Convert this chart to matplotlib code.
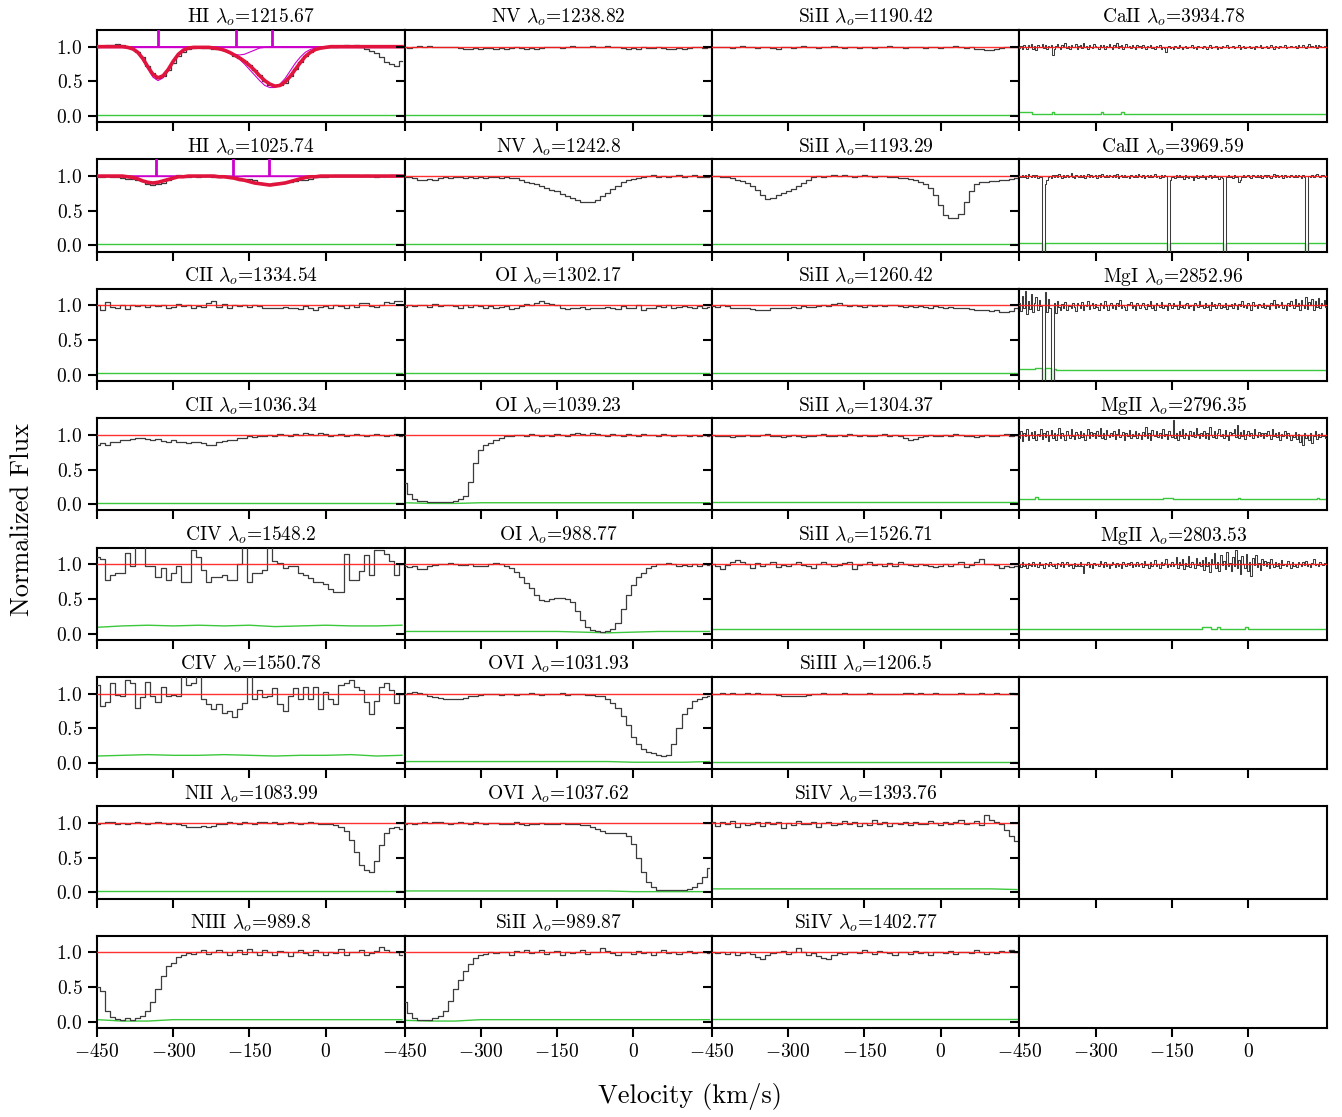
import numpy as np
import matplotlib
matplotlib.use("Agg")
import matplotlib.pyplot as plt
from matplotlib.gridspec import GridSpec
from matplotlib.ticker import FixedLocator, FixedFormatter, NullFormatter

plt.rcParams.update({
    "font.family": "serif",
    "font.serif": ["cmr10", "DejaVu Serif"],
    "mathtext.fontset": "cm",
    "axes.formatter.use_mathtext": True,
    "axes.unicode_minus": False,
})

# ---------------- data ----------------
V_START = -450
COS_STEP = 10      # km/s per bin for COS/FUSE panels
HIRES_STEP = 3     # km/s per bin for optical high-res panels
ERR_NODE_STEP = 50

xticks = [-450, -300, -150, 0]
xticklabels = ["$-450$", "$-300$", "$-150$", "$0$"]
yticks = [0.0, 0.5, 1.0]
yticklabels = ["$0.0$", "$0.5$", "$1.0$"]

# fluxes in percent of continuum
hi1215_flux = [100,101,103,103,104,102,100,97,93,85,
               72,62,55,57,66,77,86,93,96,98,
               99,98,98,97,97,95,92,87,83,80,
               74,67,59,51,45,43,44,48,57,68,
               78,86,92,96,98,99,100,100,101,102,
               101,102,99,97,94,91,85,78,75,72,
               79]
hi1215_model = [100]*6 + [99,97,92,83,71,60,55,58,67,79,
                89,95,98,99,99,99,99,98,97,95,
                92,88,84,79,73,66,58,51,46,43,
                44,49,57,67,77,86,92,96,98,99] + [100]*15
hi1215_comp1 = [100]*6 + [99,97,91,81,68,56,51,55,65,78,
                88,94,98,99] + [100]*41
hi1215_comp2 = [100]*23 + [99,97,94,91,89,88,89,92,95,98,99] + [100]*27
hi1215_comp3 = [100]*21 + [99,98,97,96,94,91,87,82,75,67,59,51,44,41,
                41,46,54,65,76,85,92,96,98,99,100] + [100]*15
hi1215_lines = [-330, -176, -105]

hi1025_flux = [99,99,100,99,99,97,96,96,95,93,
               88,87,89,90,94,99,101,100,98,100,
               99,100,101,98,99,100,100,99,97,96,
               96,95,90,89,89,90,90,91,92,93,
               95,95,96,98,98,99,100,101,102,101,
               102,101,100,101,100,98,100,100,102,101,
               100]
hi1025_model = [100]*6 + [99,98,96,93,91,90,91,93,95,97,
                99,99,100,100,100,100,100,100,99,99,
                98,97,95,94,92,90,89,88,87,88,
                89,90,92,94,96,98,99,99,100,100] + [100]*15
hi1025_comp1 = [100]*6 + [99,98,96,93,91,90,91,93,95,97,99] + [100]*44
hi1025_comp2 = [100]*25 + [99,99,99,99] + [100]*32
hi1025_comp3 = [100]*23 + [99,99,98,98,97,95,94,92,90,89,88,87,88,89,90,
                92,94,96,98,99,99,100] + [100]*16
hi1025_lines = [-334, -182, -111]

nv1238_flux = [99,98,99,101,100,101,100,99,100,100,
               100,98,97,97,98,97,98,98,97,98,
               97,98,99,98,97,98,97,98,99,100,
               99,98,99,101,100,99,100,101,100,99,
               101,100,99,98,97,98,97,99,98,98,
               100,98,97,96,98,97,98,99,100,98,
               99]
nv1242_flux = [99,98,97,95,94,96,95,97,98,97,
               98,99,97,98,97,98,97,98,99,97,
               98,97,97,95,92,90,89,86,83,80,
               78,74,71,68,65,63,62,63,66,71,
               76,81,86,91,94,96,97,99,100,101,
               99,100,98,100,101,99,100,101,99,98,
               99]
sii1190_flux = [100,99,100,99,98,100,101,100,99,98,
                99,100,98,97,99,100,98,99,101,100,
                99,98,100,99,101,99,98,100,99,98,
                100,99,98,99,100,101,100,99,98,99,
                100,99,98,100,99,98,99,100,101,99,
                98,99,97,96,95,95,96,98,99,100,
                99]
sii1193_flux = [100,100,99,98,97,95,93,90,86,80,
                72,67,69,72,75,78,81,85,90,95,
                98,100,99,100,101,100,101,100,99,100,
                101,100,99,100,100,99,98,97,97,96,
                95,92,88,83,73,58,44,39,39,45,
                62,79,88,91,92,93,93,94,95,96,
                97]
cii1334_flux = [100,93,105,98,97,100,95,101,99,100,
                98,101,99,100,97,98,102,99,100,97,
                99,98,104,106,98,102,97,101,99,100,
                98,101,99,97,96,97,96,98,96,97,
                95,99,97,94,98,99,97,100,99,96,
                101,98,104,103,99,98,101,105,103,106,
                107]
oi1302_flux = [98,100,99,101,100,98,102,99,101,100,
               99,97,100,98,101,99,97,99,96,98,
               99,95,97,99,102,101,103,106,104,102,
               100,96,95,97,96,98,95,96,97,96,
               98,97,95,99,96,97,100,93,96,97,
               99,98,100,97,98,99,98,97,99,97,
               98]
sii1260_flux = [99,98,100,99,97,96,97,96,95,94,
                93,94,96,97,96,97,98,97,99,98,
                98,99,100,99,102,104,101,99,100,99,
                98,100,99,100,99,101,100,99,98,99,
                98,99,98,97,99,98,97,98,96,97,
                96,95,94,93,94,92,93,91,90,92,
                96]
cii1036_flux = [86,88,85,89,90,93,92,94,95,96,
                94,93,94,91,90,92,89,89,88,90,
                89,88,86,85,89,91,92,93,95,96,
                98,97,99,98,100,99,101,100,99,101,
                100,102,101,100,102,101,99,100,101,99,
                100,101,100,99,100,101,100,99,100,101,
                99]
oi1039_flux = [30,14,7,5,4,3,3,3,3,3,
               4,7,12,32,60,78,85,88,92,96,
               98,99,100,100,99,101,100,99,100,99,
               101,100,99,101,102,101,100,102,101,100,
               99,101,100,98,101,100,99,101,100,100,
               99,101,100,99,100,100,99,100,99,100,
               99]
sii1304_flux = [100,99,98,99,97,98,99,100,99,98,
                100,101,99,98,97,99,100,98,97,98,
                99,100,101,99,98,100,99,101,100,99,
                100,98,99,100,101,99,100,98,96,93,
                94,97,99,100,99,98,100,99,101,100,
                99,98,97,99,100,99,98,100,101,99,
                100]
civ1548_flux = [110,108,78,85,87,87,117,98,130,130,
                97,97,82,95,77,88,97,75,75,120,
                110,92,75,82,82,85,78,78,100,130,
                75,87,87,92,130,105,102,95,97,97,
                88,85,80,75,75,72,65,60,60,115,
                77,78,90,113,85,120,120,115,105,85,
                100]
oi988_flux = [97,96,97,93,93,97,99,100,101,102,
              101,99,99,100,98,97,98,101,102,101,
              98,94,89,82,73,66,55,48,47,50,
              51,52,50,46,33,20,10,5,3,2,
              3,6,15,35,55,70,82,88,94,98,
              100,101,102,100,98,99,97,100,98,101,
              99]
sii1526_flux = [100,97,93,99,103,106,104,100,95,102,
                98,101,104,96,99,97,101,103,99,98,
                95,100,104,101,98,99,102,104,93,99,
                100,103,99,101,97,102,98,104,101,99,
                97,101,99,98,96,97,100,98,101,104,
                96,99,103,107,100,101,99,95,97,96,
                98]
civ1550_flux = [112,82,88,115,98,97,120,115,80,95,
                117,97,88,110,97,98,97,130,112,115,
                130,92,85,78,85,72,75,66,78,87,
                130,92,105,95,97,108,85,75,97,108,
                93,110,92,110,78,102,93,85,112,115,
                120,110,105,88,70,90,110,115,105,87,
                100]
ovi1031_flux = [100,101,102,101,99,96,95,94,93,92,
                92,93,94,96,97,98,99,100,99,98,
                100,99,98,99,100,101,99,98,99,100,
                99,101,98,99,100,99,98,98,97,96,
                93,87,79,68,55,38,28,20,16,14,
                12,10,12,27,50,70,80,89,93,95,
                97]
siiii1206_flux = [99,100,101,100,101,100,99,101,100,101,
                  100,99,100,98,97,96,96,97,96,98,
                  99,100,101,100,99,100,101,100,99,100,
                  100,101,99,100,99,100,99,100,101,101,
                  100,101,99,100,101,100,99,100,99,101,
                  100,99,100,101,99,100,101,99,100,101,
                  99]
nii1083_flux = [99,100,102,101,99,100,99,100,101,100,
                99,100,101,100,99,100,98,97,95,94,
                95,96,94,96,98,99,101,100,99,101,
                100,99,102,101,100,101,99,100,101,100,
                99,100,101,100,99,98,98,97,94,88,
                76,58,40,32,30,45,68,85,93,95,
                92]
ovi1037_flux = [99,100,99,100,101,100,102,101,100,99,
                100,101,100,99,101,100,99,100,100,99,
                98,99,101,99,97,99,98,100,99,98,
                99,100,99,98,99,97,97,95,92,89,
                86,85,85,86,82,70,50,30,15,7,
                4,3,3,3,3,3,5,8,13,22,
                35]
siiv1393_flux = [102,96,101,98,103,95,100,97,99,101,
                 96,102,98,101,93,100,97,103,99,98,
                 101,94,100,102,97,99,103,98,101,96,
                 100,97,104,99,101,96,100,98,102,97,
                 101,99,98,103,100,97,102,99,101,104,
                 98,100,103,97,112,105,101,98,90,82,
                 74]
niii989_flux = [50,45,15,7,4,3,5,3,5,9,
                15,28,48,66,80,85,94,97,99,98,
                100,103,98,101,104,100,96,100,103,98,
                105,101,97,104,100,96,102,100,95,101,
                104,99,97,103,100,96,101,99,105,97,
                101,100,103,96,99,102,108,104,100,101,
                97]
sii989_flux = [28,12,5,3,2,3,5,9,16,30,
               47,60,73,83,92,96,98,100,99,101,
               100,97,102,100,104,99,101,103,98,100,
               102,97,101,99,100,103,98,100,101,106,
               102,99,96,101,100,98,102,99,101,97,
               100,103,99,101,98,100,102,99,101,100,
               99]
siiv1402_flux = [101,99,100,98,101,97,99,100,98,94,
                 91,96,99,100,102,98,101,106,100,97,
                 99,95,92,90,96,99,98,101,100,99,
                 103,101,98,102,100,99,97,100,101,98,
                 102,99,100,97,101,100,99,102,98,100,
                 101,99,103,100,98,101,99,102,100,103,
                 101]

# high-resolution optical spectra (3 km/s bins), -15 = masked pixel
caii3934_flux = [98,101,97,103,100,96,102,99,104,97,101,95,103,99,100,104,98,102,96,101,
                 99,103,88,97,101,104,99,96,102,100,106,98,101,97,103,100,99,104,96,101,
                 102,98,105,99,101,97,103,100,98,104,101,99,96,102,100,103,97,101,99,104,
                 100,97,102,99,105,98,101,103,97,100,104,99,101,98,102,100,97,103,99,101,
                 98,102,100,97,101,99,103,98,100,96,101,99,102,97,100,98,93,99,101,98,
                 100,97,101,99,98,102,99,97,100,101,98,100,99,102,98,100,97,101,99,100,
                 98,101,99,97,100,102,98,100,99,101,97,100,98,101,99,100,102,98,100,99,
                 101,98,100,99,102,97,100,101,98,100,99,101,98,100,97,101,99,100,102,98,
                 100,99,101,98,100,102,99,97,101,100,98,101,99,100,103,98,100,99,101,100,
                 99,101,98,102,100,99,103,100,98,101,104,99,101,100,102,98,103,101,100,99,
                 101,100]
caii3969_flux = [100,98,102,99,101,97,103,100,98,101,99,102,97,100,99,-15,-15,89,94,98,
                 100,97,102,99,101,98,103,100,97,101,99,102,98,100,104,99,97,101,100,98,
                 102,99,101,97,100,103,98,101,99,100,102,97,101,99,103,100,98,101,99,102,
                 100,98,101,99,103,97,100,102,99,101,98,100,97,102,100,99,101,98,103,100,
                 99,101,97,100,102,98,101,99,100,103,98,100,97,101,99,102,100,-15,-15,95,
                 98,100,97,102,99,101,98,100,96,101,99,97,100,98,95,99,101,97,100,98,
                 101,99,96,100,98,102,97,99,101,98,100,96,99,97,-15,-15,98,101,99,100,
                 97,101,99,98,92,95,99,101,98,100,102,99,97,101,100,98,102,99,101,97,
                 100,102,98,101,99,97,100,103,99,101,98,100,102,97,101,99,100,98,102,100,
                 99,101,98,102,100,97,101,99,-15,-15,100,98,102,99,101,103,100,98,102,101,
                 100,99]
mgi2852_flux = [104,92,113,97,121,88,106,95,117,90,103,112,94,108,99,-15,-15,119,91,110,
                96,-15,-15,104,89,107,98,93,102,97,105,94,101,99,96,104,98,92,103,100,
                97,105,94,101,99,107,95,100,103,96,102,98,94,104,100,97,106,99,93,101,
                104,97,100,95,103,99,108,96,101,98,94,102,100,105,97,99,93,103,101,96,
                100,104,98,95,102,99,106,97,101,94,103,100,98,105,96,101,99,93,104,100,
                97,103,99,101,95,107,98,100,96,102,104,97,99,101,94,103,100,98,106,99,
                101,96,103,98,100,94,105,99,102,97,100,104,96,101,98,103,95,100,99,102,
                97,104,100,95,102,99,106,98,101,96,103,100,94,105,99,101,97,102,100,98,
                104,97,101,99,95,103,100,108,96,102,98,101,105,97,100,94,103,99,107,100,
                96,110,99,104,93,108,101,97,112,95,105,100,109,94,106,98,111,96,104,100,
                108,98]
mgii2796_flux = [95,105,91,102,98,108,93,100,104,96,106,92,101,99,109,94,102,97,105,91,
                 100,107,96,103,93,101,110,95,102,98,92,105,100,96,108,99,94,104,101,95,
                 106,97,103,93,100,109,96,104,98,102,95,105,99,110,96,102,94,107,100,97,
                 103,98,106,94,101,108,97,100,104,93,102,99,107,95,101,98,105,96,103,100,
                 94,104,99,111,96,102,93,107,100,98,105,97,103,95,109,99,101,94,106,100,
                 97,121,95,102,93,105,99,108,96,103,100,94,106,98,104,97,110,101,95,103,
                 99,106,96,102,94,112,100,97,105,95,103,108,98,101,96,107,99,93,104,100,
                 102,108,97,114,96,104,99,107,94,101,105,98,103,96,109,100,97,104,99,102,
                 95,103,98,106,100,94,108,99,102,97,104,93,101,99,106,96,103,98,92,100,
                 97,104,94,101,89,99,86,103,96,100,93,102,88,99,105,94,101,97,103,98,
                 100,96]
mgii2803_flux = [101,96,103,98,100,95,102,99,97,104,98,101,96,103,99,101,94,102,100,97,
                 103,99,97,101,94,102,100,98,104,96,100,103,97,99,101,95,102,98,100,97,
                 104,98,88,101,99,103,96,100,94,102,99,101,97,105,100,96,103,98,101,95,
                 99,104,100,96,102,98,101,95,103,100,97,102,99,104,96,101,98,103,97,100,
                 102,96,105,99,101,94,103,98,100,106,97,101,95,103,99,102,108,96,100,98,
                 104,97,101,110,95,103,99,107,93,102,98,112,96,104,100,94,109,99,103,97,
                 106,92,111,98,104,89,107,101,116,95,103,90,113,99,105,93,118,97,102,91,
                 110,98,121,94,106,86,112,100,95,115,91,104,83,109,99,114,96,102,92,107,
                 99,105,97,103,95,108,100,96,104,98,102,95,106,99,101,97,105,100,94,103,
                 98,101,96,104,100,97,103,99,105,98,100,96,102,107,99,101,97,103,100,99,
                 102,100]

# error spectra (percent) at nodes every 50 km/s from -450
err_flat2 = [2,2,2,2,2,2,2,2,2,2,2,2,2]
err_flat3 = [3,3,3,3,3,3,3,3,3,3,3,3,3]
civ1548_err = [9,11,12,11,12,11,12,10,11,12,11,11,12]
civ1550_err = [10,11,12,11,11,12,11,10,11,11,12,10,11]
oi988_err = [3,3,3,3,3,3,3,2,1,2,3,3,3]
ovi1031_err = [2,2,2,2,2,2,2,2,2,1,1,1,2]
ovi1037_err = [2,2,2,2,2,2,2,2,2,1,1,1,1]
oi1039_err = [2,1,1,2,2,2,2,2,2,2,2,2,2]
niii989_err = [3,1,1,3,3,3,3,3,3,3,3,3,3]
sii989_err = [2,1,1,3,3,3,3,3,3,3,3,3,3]
sii1526_err = [6,6,6,6,6,6,6,6,6,6,6,6,6]
siiv1393_err = [5,5,5,5,5,5,5,5,5,5,5,5,4]
siiv1402_err = [4,4,4,4,4,4,4,4,4,4,4,4,4]

# high-res error as step nodes (velocity, percent)
caii3934_err_v = [-450, -425, -387, -382, -290, -285, -250, -245, 155]
caii3934_err = [5, 3, 5, 3, 5, 3, 5, 3, 3]
caii3969_err_v = [-450, -406.5, -400.5, -160.5, -154.5, -49.5, -43.5, 112.5, 118.5, 155]
caii3969_err = [4, -15, 4, -15, 4, -15, 4, -15, 4, 4]
mgi2852_err_v = [-450, -420, -406.5, -400.5, -388.5, -382.5, -378, 155]
mgi2852_err = [8, 9, -15, 9, -15, 8, 7, 7]
mgii2796_err_v = [-450, -420, -414, -167, -147, -20, -16, 103, 131, 135, 139, 155]
mgii2796_err = [7, 10, 7, 9, 7, 9, 7, 8, 7, 9, 7, 7]
mgii2803_err_v = [-450, -248, -244, -90, -74, -61, -55, -6, 0, 155]
mgii2803_err = [6, 7, 6, 10, 6, 10, 6, 10, 6, 6]

ions = [["HI", "NV", "SiII", "CaII"],
        ["HI", "NV", "SiII", "CaII"],
        ["CII", "OI", "SiII", "MgI"],
        ["CII", "OI", "SiII", "MgII"],
        ["CIV", "OI", "SiII", "MgII"],
        ["CIV", "OVI", "SiIII", None],
        ["NII", "OVI", "SiIV", None],
        ["NIII", "SiII", "SiIV", None]]
wavelengths = [["1215.67", "1238.82", "1190.42", "3934.78"],
               ["1025.74", "1242.8", "1193.29", "3969.59"],
               ["1334.54", "1302.17", "1260.42", "2852.96"],
               ["1036.34", "1039.23", "1304.37", "2796.35"],
               ["1548.2", "988.77", "1526.71", "2803.53"],
               ["1550.78", "1031.93", "1206.5", None],
               ["1083.99", "1037.62", "1393.76", None],
               ["989.8", "989.87", "1402.77", None]]

cos_flux = {
    (0, 0): hi1215_flux, (0, 1): nv1238_flux, (0, 2): sii1190_flux,
    (1, 0): hi1025_flux, (1, 1): nv1242_flux, (1, 2): sii1193_flux,
    (2, 0): cii1334_flux, (2, 1): oi1302_flux, (2, 2): sii1260_flux,
    (3, 0): cii1036_flux, (3, 1): oi1039_flux, (3, 2): sii1304_flux,
    (4, 0): civ1548_flux, (4, 1): oi988_flux, (4, 2): sii1526_flux,
    (5, 0): civ1550_flux, (5, 1): ovi1031_flux, (5, 2): siiii1206_flux,
    (6, 0): nii1083_flux, (6, 1): ovi1037_flux, (6, 2): siiv1393_flux,
    (7, 0): niii989_flux, (7, 1): sii989_flux, (7, 2): siiv1402_flux,
}
cos_err = {
    (0, 0): err_flat2, (0, 1): err_flat2, (0, 2): err_flat2,
    (1, 0): err_flat2, (1, 1): err_flat2, (1, 2): err_flat2,
    (2, 0): err_flat3, (2, 1): err_flat3, (2, 2): err_flat3,
    (3, 0): err_flat2, (3, 1): oi1039_err, (3, 2): err_flat3,
    (4, 0): civ1548_err, (4, 1): oi988_err, (4, 2): sii1526_err,
    (5, 0): civ1550_err, (5, 1): ovi1031_err, (5, 2): err_flat2,
    (6, 0): err_flat2, (6, 1): ovi1037_err, (6, 2): siiv1393_err,
    (7, 0): niii989_err, (7, 1): sii989_err, (7, 2): siiv1402_err,
}
hires = {
    (0, 3): (caii3934_flux, caii3934_err_v, caii3934_err),
    (1, 3): (caii3969_flux, caii3969_err_v, caii3969_err),
    (2, 3): (mgi2852_flux, mgi2852_err_v, mgi2852_err),
    (3, 3): (mgii2796_flux, mgii2796_err_v, mgii2796_err),
    (4, 3): (mgii2803_flux, mgii2803_err_v, mgii2803_err),
}
hi_models = {
    (0, 0): (hi1215_model, [hi1215_comp1, hi1215_comp2, hi1215_comp3], hi1215_lines),
    (1, 0): (hi1025_model, [hi1025_comp1, hi1025_comp2, hi1025_comp3], hi1025_lines),
}

# ---------------- plotting ----------------
C_SPEC = "#3c3c3c"
C_CONT = "#ff1a1a"
C_ERR = "#3cc83c"
C_MAG = "#cc00cc"
C_FIT = "#e0143c"

fig = plt.figure(figsize=(13.42, 11.17), dpi=100)
gs = GridSpec(8, 4, figure=fig, left=0.0723, right=0.9888, top=0.9731,
              bottom=0.0797, hspace=0.405, wspace=0.0)

for r in range(8):
    for c in range(4):
        ax = fig.add_subplot(gs[r, c])
        key = (r, c)
        if key in cos_flux:
            f = np.array(cos_flux[key]) / 100.0
            v = V_START + COS_STEP * np.arange(len(f))
            ax.step(v, f, where="mid", color=C_SPEC, lw=0.9, zorder=3)
            e = np.array(cos_err[key]) / 100.0
            ve = V_START + ERR_NODE_STEP * np.arange(len(e))
            ax.plot(ve, e, color=C_ERR, lw=1.0, zorder=2)
        elif key in hires:
            fl, evv, ee = hires[key]
            f = np.array(fl) / 100.0
            v = V_START + HIRES_STEP * np.arange(len(f))
            ax.step(v, f, where="mid", color=C_SPEC, lw=0.75, zorder=3)
            ax.step(evv, np.array(ee) / 100.0, where="post", color=C_ERR,
                    lw=1.0, zorder=2)
        if key in hi_models:
            model, comps, lines = hi_models[key]
            vm = V_START + COS_STEP * np.arange(len(model))
            ax.axhline(1.0, color=C_MAG, lw=1.0, zorder=2)
            for comp in comps:
                ax.plot(vm, np.array(comp) / 100.0, color=C_MAG, lw=0.8, zorder=4)
            ax.plot(vm, np.array(model) / 100.0, color=C_FIT, lw=2.6, zorder=5)
            ax.vlines(lines, 1.0, 1.4, color=C_MAG, lw=2.0, zorder=6)
        elif key in cos_flux or key in hires:
            ax.axhline(1.0, color=C_CONT, lw=1.0, zorder=4, alpha=0.9)

        ax.set_xlim(-450, 155)
        ax.set_ylim(-0.09, 1.24)
        if ions[r][c] is not None:
            ax.set_title(ions[r][c] + r" $\lambda_o$=" + wavelengths[r][c],
                         fontsize=14, pad=5)
        ax.xaxis.set_major_locator(FixedLocator(xticks))
        ax.yaxis.set_major_locator(FixedLocator(yticks))
        if r == 7:
            ax.xaxis.set_major_formatter(FixedFormatter(xticklabels))
        else:
            ax.xaxis.set_major_formatter(NullFormatter())
        if c == 0:
            ax.yaxis.set_major_formatter(FixedFormatter(yticklabels))
        else:
            ax.yaxis.set_major_formatter(NullFormatter())
        ax.tick_params(axis="both", direction="out", length=6.5, width=1.5,
                       labelsize=14, pad=4)
        for sp in ax.spines.values():
            sp.set_linewidth(1.5)

fig.text(0.0164, 0.5345, "Normalized Flux", rotation=90, ha="center",
         va="center", fontsize=19)
fig.text(0.514, 0.018, "Velocity (km/s)", ha="center", va="center",
         fontsize=19)

fig.savefig("out.png", dpi=100)
